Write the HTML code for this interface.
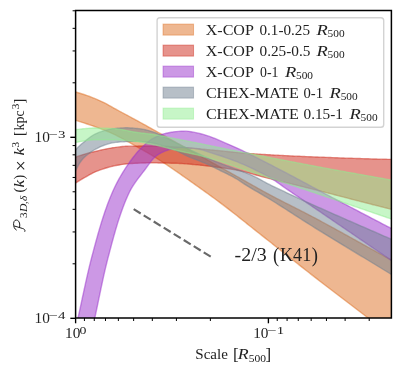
<!DOCTYPE html>
<html><head><meta charset="utf-8"><title>chart</title>
<style>
html,body{margin:0;padding:0;background:#fff;}
body{width:402px;height:374px;overflow:hidden;}
svg{display:block;will-change:transform;}
text{font-family:"Liberation Serif",serif;fill:#222;}
</style></head><body>
<svg width="402" height="374" viewBox="0 0 402 374">
<defs><clipPath id="ax"><rect x="75.60" y="10.50" width="315.80" height="307.50"/></clipPath></defs>
<rect x="0" y="0" width="402" height="374" fill="#fff"/>
<g clip-path="url(#ax)">
<path d="M70.00,90.30 L71.64,90.79 L73.28,91.28 L74.91,91.77 L76.55,92.27 L78.19,92.76 L79.83,93.24 L81.47,93.74 L83.11,94.24 L84.74,94.77 L86.38,95.33 L88.02,95.92 L89.66,96.52 L91.30,97.14 L92.93,97.79 L94.57,98.45 L96.21,99.13 L97.85,99.83 L99.49,100.55 L101.13,101.30 L102.76,102.06 L104.40,102.87 L106.04,103.72 L107.68,104.61 L109.32,105.52 L110.95,106.44 L112.59,107.38 L114.23,108.31 L115.87,109.23 L117.51,110.13 L119.15,111.01 L120.78,111.89 L122.42,112.76 L124.06,113.63 L125.70,114.50 L127.34,115.37 L128.97,116.25 L130.61,117.13 L132.25,118.02 L133.89,118.91 L135.53,119.81 L137.17,120.70 L138.80,121.60 L140.44,122.50 L142.08,123.41 L143.72,124.31 L145.36,125.22 L146.99,126.12 L148.63,127.03 L150.27,127.94 L151.91,128.85 L153.55,129.76 L155.19,130.67 L156.82,131.59 L158.46,132.50 L160.10,133.42 L161.74,134.34 L163.38,135.26 L165.02,136.18 L166.65,137.10 L168.29,138.02 L169.93,138.94 L171.57,139.87 L173.21,140.79 L174.84,141.71 L176.48,142.63 L178.12,143.55 L179.76,144.46 L181.40,145.38 L183.04,146.30 L184.67,147.22 L186.31,148.13 L187.95,149.05 L189.59,149.97 L191.23,150.88 L192.86,151.80 L194.50,152.71 L196.14,153.63 L197.78,154.55 L199.42,155.46 L201.06,156.38 L202.69,157.29 L204.33,158.21 L205.97,159.12 L207.61,160.04 L209.25,160.95 L210.88,161.87 L212.52,162.78 L214.16,163.70 L215.80,164.61 L217.44,165.53 L219.08,166.44 L220.71,167.36 L222.35,168.27 L223.99,169.19 L225.63,170.10 L227.27,171.02 L228.90,171.94 L230.54,172.85 L232.18,173.77 L233.82,174.68 L235.46,175.60 L237.10,176.51 L238.73,177.43 L240.37,178.35 L242.01,179.28 L243.65,180.20 L245.29,181.13 L246.92,182.06 L248.56,182.99 L250.20,183.91 L251.84,184.84 L253.48,185.76 L255.12,186.69 L256.75,187.61 L258.39,188.53 L260.03,189.44 L261.67,190.35 L263.31,191.26 L264.94,192.16 L266.58,193.05 L268.22,193.94 L269.86,194.82 L271.50,195.70 L273.14,196.57 L274.77,197.43 L276.41,198.29 L278.05,199.14 L279.69,199.98 L281.33,200.83 L282.96,201.66 L284.60,202.50 L286.24,203.33 L287.88,204.16 L289.52,204.99 L291.16,205.82 L292.79,206.65 L294.43,207.47 L296.07,208.30 L297.71,209.13 L299.35,209.96 L300.98,210.79 L302.62,211.63 L304.26,212.47 L305.90,213.31 L307.54,214.16 L309.18,215.02 L310.81,215.87 L312.45,216.74 L314.09,217.61 L315.73,218.48 L317.37,219.35 L319.01,220.23 L320.64,221.11 L322.28,221.99 L323.92,222.88 L325.56,223.76 L327.20,224.65 L328.83,225.54 L330.47,226.43 L332.11,227.33 L333.75,228.22 L335.39,229.12 L337.03,230.02 L338.66,230.92 L340.30,231.82 L341.94,232.73 L343.58,233.63 L345.22,234.53 L346.85,235.44 L348.49,236.35 L350.13,237.25 L351.77,238.16 L353.41,239.07 L355.05,239.98 L356.68,240.89 L358.32,241.80 L359.96,242.71 L361.60,243.61 L363.24,244.52 L364.87,245.43 L366.51,246.34 L368.15,247.25 L369.79,248.15 L371.43,249.06 L373.07,249.97 L374.70,250.87 L376.34,251.77 L377.98,252.68 L379.62,253.58 L381.26,254.48 L382.89,255.38 L384.53,256.27 L386.17,257.17 L387.81,258.06 L389.45,258.96 L391.09,259.85 L392.72,260.73 L394.36,261.62 L396.00,262.50 L396.00,339.50 L394.36,338.24 L392.72,336.97 L391.09,335.71 L389.45,334.45 L387.81,333.19 L386.17,331.92 L384.53,330.66 L382.89,329.40 L381.26,328.14 L379.62,326.88 L377.98,325.62 L376.34,324.35 L374.70,323.09 L373.07,321.83 L371.43,320.57 L369.79,319.31 L368.15,318.05 L366.51,316.80 L364.87,315.54 L363.24,314.28 L361.60,313.03 L359.96,311.78 L358.32,310.52 L356.68,309.27 L355.05,308.02 L353.41,306.77 L351.77,305.52 L350.13,304.27 L348.49,303.02 L346.85,301.77 L345.22,300.52 L343.58,299.27 L341.94,298.02 L340.30,296.76 L338.66,295.51 L337.03,294.26 L335.39,293.01 L333.75,291.76 L332.11,290.50 L330.47,289.25 L328.83,287.99 L327.20,286.73 L325.56,285.48 L323.92,284.22 L322.28,282.95 L320.64,281.69 L319.01,280.43 L317.37,279.16 L315.73,277.89 L314.09,276.62 L312.45,275.35 L310.81,274.08 L309.18,272.80 L307.54,271.52 L305.90,270.24 L304.26,268.96 L302.62,267.67 L300.98,266.39 L299.35,265.10 L297.71,263.81 L296.07,262.52 L294.43,261.23 L292.79,259.93 L291.16,258.64 L289.52,257.35 L287.88,256.05 L286.24,254.75 L284.60,253.46 L282.96,252.16 L281.33,250.86 L279.69,249.57 L278.05,248.27 L276.41,246.97 L274.77,245.68 L273.14,244.38 L271.50,243.08 L269.86,241.79 L268.22,240.49 L266.58,239.20 L264.94,237.91 L263.31,236.62 L261.67,235.33 L260.03,234.04 L258.39,232.74 L256.75,231.45 L255.12,230.15 L253.48,228.85 L251.84,227.54 L250.20,226.24 L248.56,224.93 L246.92,223.63 L245.29,222.32 L243.65,221.01 L242.01,219.71 L240.37,218.41 L238.73,217.11 L237.10,215.82 L235.46,214.52 L233.82,213.23 L232.18,211.95 L230.54,210.67 L228.90,209.40 L227.27,208.13 L225.63,206.87 L223.99,205.62 L222.35,204.37 L220.71,203.14 L219.08,201.91 L217.44,200.69 L215.80,199.47 L214.16,198.27 L212.52,197.07 L210.88,195.88 L209.25,194.69 L207.61,193.51 L205.97,192.33 L204.33,191.15 L202.69,189.98 L201.06,188.82 L199.42,187.65 L197.78,186.49 L196.14,185.33 L194.50,184.17 L192.86,183.01 L191.23,181.85 L189.59,180.69 L187.95,179.53 L186.31,178.37 L184.67,177.22 L183.04,176.06 L181.40,174.90 L179.76,173.75 L178.12,172.60 L176.48,171.46 L174.84,170.33 L173.21,169.20 L171.57,168.07 L169.93,166.96 L168.29,165.85 L166.65,164.75 L165.02,163.67 L163.38,162.59 L161.74,161.53 L160.10,160.47 L158.46,159.42 L156.82,158.38 L155.19,157.36 L153.55,156.34 L151.91,155.35 L150.27,154.36 L148.63,153.40 L146.99,152.45 L145.36,151.53 L143.72,150.61 L142.08,149.70 L140.44,148.78 L138.80,147.86 L137.17,146.92 L135.53,145.98 L133.89,145.03 L132.25,144.08 L130.61,143.13 L128.97,142.20 L127.34,141.28 L125.70,140.38 L124.06,139.50 L122.42,138.62 L120.78,137.75 L119.15,136.90 L117.51,136.06 L115.87,135.23 L114.23,134.44 L112.59,133.67 L110.95,132.93 L109.32,132.22 L107.68,131.52 L106.04,130.85 L104.40,130.19 L102.76,129.55 L101.13,128.92 L99.49,128.31 L97.85,127.71 L96.21,127.11 L94.57,126.53 L92.93,125.95 L91.30,125.39 L89.66,124.83 L88.02,124.28 L86.38,123.73 L84.74,123.19 L83.11,122.66 L81.47,122.13 L79.83,121.61 L78.19,121.09 L76.55,120.57 L74.91,120.06 L73.28,119.57 L71.64,119.08 L70.00,118.60 Z" fill="rgb(222,111,36)" fill-opacity="0.5" stroke="rgb(222,111,36)" stroke-opacity="0.5" stroke-width="1.39" stroke-linejoin="round"/>
<path d="M70.00,159.60 L71.64,158.84 L73.28,158.11 L74.91,157.42 L76.55,156.79 L78.19,156.19 L79.83,155.63 L81.47,155.09 L83.11,154.57 L84.74,154.09 L86.38,153.63 L88.02,153.20 L89.66,152.78 L91.30,152.38 L92.93,151.99 L94.57,151.60 L96.21,151.21 L97.85,150.81 L99.49,150.43 L101.13,150.05 L102.76,149.68 L104.40,149.32 L106.04,148.99 L107.68,148.67 L109.32,148.36 L110.95,148.07 L112.59,147.80 L114.23,147.57 L115.87,147.35 L117.51,147.13 L119.15,146.92 L120.78,146.73 L122.42,146.55 L124.06,146.40 L125.70,146.29 L127.34,146.22 L128.97,146.18 L130.61,146.16 L132.25,146.13 L133.89,146.11 L135.53,146.09 L137.17,146.07 L138.80,146.05 L140.44,146.04 L142.08,146.03 L143.72,146.02 L145.36,146.01 L146.99,146.00 L148.63,146.00 L150.27,146.00 L151.91,146.01 L153.55,146.03 L155.19,146.05 L156.82,146.09 L158.46,146.14 L160.10,146.19 L161.74,146.25 L163.38,146.32 L165.02,146.40 L166.65,146.47 L168.29,146.56 L169.93,146.64 L171.57,146.73 L173.21,146.82 L174.84,146.91 L176.48,147.00 L178.12,147.10 L179.76,147.19 L181.40,147.28 L183.04,147.38 L184.67,147.50 L186.31,147.62 L187.95,147.75 L189.59,147.88 L191.23,148.02 L192.86,148.17 L194.50,148.32 L196.14,148.47 L197.78,148.63 L199.42,148.79 L201.06,148.95 L202.69,149.11 L204.33,149.27 L205.97,149.42 L207.61,149.58 L209.25,149.73 L210.88,149.88 L212.52,150.03 L214.16,150.19 L215.80,150.35 L217.44,150.51 L219.08,150.68 L220.71,150.85 L222.35,151.01 L223.99,151.18 L225.63,151.35 L227.27,151.52 L228.90,151.69 L230.54,151.86 L232.18,152.03 L233.82,152.19 L235.46,152.35 L237.10,152.51 L238.73,152.66 L240.37,152.81 L242.01,152.95 L243.65,153.09 L245.29,153.22 L246.92,153.35 L248.56,153.47 L250.20,153.58 L251.84,153.69 L253.48,153.80 L255.12,153.91 L256.75,154.02 L258.39,154.12 L260.03,154.23 L261.67,154.33 L263.31,154.43 L264.94,154.53 L266.58,154.62 L268.22,154.72 L269.86,154.81 L271.50,154.91 L273.14,155.00 L274.77,155.09 L276.41,155.18 L278.05,155.26 L279.69,155.35 L281.33,155.43 L282.96,155.52 L284.60,155.60 L286.24,155.68 L287.88,155.76 L289.52,155.84 L291.16,155.92 L292.79,156.00 L294.43,156.08 L296.07,156.15 L297.71,156.23 L299.35,156.30 L300.98,156.37 L302.62,156.44 L304.26,156.51 L305.90,156.58 L307.54,156.65 L309.18,156.72 L310.81,156.79 L312.45,156.86 L314.09,156.92 L315.73,156.99 L317.37,157.05 L319.01,157.12 L320.64,157.18 L322.28,157.25 L323.92,157.31 L325.56,157.37 L327.20,157.43 L328.83,157.50 L330.47,157.56 L332.11,157.62 L333.75,157.68 L335.39,157.74 L337.03,157.80 L338.66,157.85 L340.30,157.91 L341.94,157.97 L343.58,158.03 L345.22,158.08 L346.85,158.14 L348.49,158.19 L350.13,158.25 L351.77,158.30 L353.41,158.35 L355.05,158.41 L356.68,158.46 L358.32,158.51 L359.96,158.56 L361.60,158.61 L363.24,158.66 L364.87,158.71 L366.51,158.76 L368.15,158.81 L369.79,158.85 L371.43,158.90 L373.07,158.94 L374.70,158.99 L376.34,159.03 L377.98,159.08 L379.62,159.12 L381.26,159.16 L382.89,159.20 L384.53,159.25 L386.17,159.29 L387.81,159.33 L389.45,159.36 L391.09,159.40 L392.72,159.44 L394.36,159.47 L396.00,159.50 L396.00,210.40 L394.36,210.01 L392.72,209.62 L391.09,209.22 L389.45,208.82 L387.81,208.41 L386.17,208.01 L384.53,207.60 L382.89,207.19 L381.26,206.78 L379.62,206.37 L377.98,205.95 L376.34,205.54 L374.70,205.12 L373.07,204.71 L371.43,204.29 L369.79,203.87 L368.15,203.45 L366.51,203.03 L364.87,202.61 L363.24,202.18 L361.60,201.76 L359.96,201.34 L358.32,200.91 L356.68,200.49 L355.05,200.07 L353.41,199.64 L351.77,199.21 L350.13,198.79 L348.49,198.36 L346.85,197.94 L345.22,197.51 L343.58,197.09 L341.94,196.66 L340.30,196.24 L338.66,195.81 L337.03,195.39 L335.39,194.96 L333.75,194.54 L332.11,194.12 L330.47,193.69 L328.83,193.27 L327.20,192.85 L325.56,192.43 L323.92,192.01 L322.28,191.59 L320.64,191.18 L319.01,190.76 L317.37,190.35 L315.73,189.93 L314.09,189.52 L312.45,189.11 L310.81,188.70 L309.18,188.29 L307.54,187.88 L305.90,187.47 L304.26,187.06 L302.62,186.65 L300.98,186.25 L299.35,185.85 L297.71,185.44 L296.07,185.04 L294.43,184.65 L292.79,184.25 L291.16,183.85 L289.52,183.46 L287.88,183.06 L286.24,182.67 L284.60,182.28 L282.96,181.88 L281.33,181.49 L279.69,181.09 L278.05,180.69 L276.41,180.29 L274.77,179.89 L273.14,179.49 L271.50,179.09 L269.86,178.68 L268.22,178.27 L266.58,177.86 L264.94,177.44 L263.31,177.02 L261.67,176.59 L260.03,176.15 L258.39,175.69 L256.75,175.24 L255.12,174.77 L253.48,174.31 L251.84,173.85 L250.20,173.39 L248.56,172.94 L246.92,172.50 L245.29,172.07 L243.65,171.66 L242.01,171.26 L240.37,170.88 L238.73,170.53 L237.10,170.20 L235.46,169.90 L233.82,169.62 L232.18,169.35 L230.54,169.08 L228.90,168.83 L227.27,168.58 L225.63,168.33 L223.99,168.09 L222.35,167.86 L220.71,167.63 L219.08,167.41 L217.44,167.19 L215.80,166.97 L214.16,166.76 L212.52,166.55 L210.88,166.34 L209.25,166.14 L207.61,165.95 L205.97,165.77 L204.33,165.59 L202.69,165.43 L201.06,165.27 L199.42,165.10 L197.78,164.93 L196.14,164.77 L194.50,164.61 L192.86,164.45 L191.23,164.29 L189.59,164.14 L187.95,164.00 L186.31,163.87 L184.67,163.74 L183.04,163.63 L181.40,163.53 L179.76,163.44 L178.12,163.37 L176.48,163.31 L174.84,163.27 L173.21,163.23 L171.57,163.19 L169.93,163.15 L168.29,163.12 L166.65,163.08 L165.02,163.05 L163.38,163.02 L161.74,163.00 L160.10,162.97 L158.46,162.95 L156.82,162.93 L155.19,162.92 L153.55,162.91 L151.91,162.90 L150.27,162.90 L148.63,162.90 L146.99,162.92 L145.36,162.95 L143.72,162.99 L142.08,163.03 L140.44,163.09 L138.80,163.15 L137.17,163.22 L135.53,163.30 L133.89,163.39 L132.25,163.47 L130.61,163.56 L128.97,163.67 L127.34,163.81 L125.70,163.98 L124.06,164.18 L122.42,164.42 L120.78,164.67 L119.15,164.95 L117.51,165.24 L115.87,165.54 L114.23,165.86 L112.59,166.20 L110.95,166.60 L109.32,167.05 L107.68,167.53 L106.04,168.02 L104.40,168.52 L102.76,169.05 L101.13,169.60 L99.49,170.19 L97.85,170.80 L96.21,171.46 L94.57,172.16 L92.93,172.94 L91.30,173.78 L89.66,174.67 L88.02,175.60 L86.38,176.54 L84.74,177.48 L83.11,178.41 L81.47,179.37 L79.83,180.35 L78.19,181.37 L76.55,182.43 L74.91,183.55 L73.28,184.74 L71.64,186.00 L70.00,187.30 Z" fill="rgb(205,40,25)" fill-opacity="0.5" stroke="rgb(205,40,25)" stroke-opacity="0.5" stroke-width="1.39" stroke-linejoin="round"/>
<path d="M72.00,345.00 L72.54,342.58 L73.07,340.16 L73.61,337.73 L74.14,335.31 L74.68,332.89 L75.22,330.47 L75.76,328.05 L76.30,325.62 L76.84,323.20 L77.38,320.78 L77.92,318.36 L78.46,315.94 L79.00,313.52 L79.53,311.09 L80.05,308.67 L80.58,306.24 L81.10,303.81 L81.62,301.38 L82.14,298.95 L82.66,296.52 L83.18,294.10 L83.71,291.67 L84.23,289.24 L84.76,286.81 L85.29,284.39 L85.82,281.96 L86.36,279.54 L86.91,277.12 L87.46,274.70 L88.01,272.28 L88.58,269.87 L89.16,267.46 L89.74,265.05 L90.33,262.65 L90.94,260.24 L91.55,257.85 L92.18,255.45 L92.82,253.06 L93.46,250.66 L94.10,248.26 L94.75,245.86 L95.40,243.45 L96.06,241.04 L96.72,238.63 L97.40,236.22 L98.08,233.81 L98.77,231.40 L99.47,229.00 L100.18,226.60 L100.90,224.20 L101.63,221.81 L102.38,219.43 L103.14,217.06 L103.92,214.69 L104.71,212.33 L105.51,209.98 L106.34,207.65 L107.18,205.32 L108.04,203.01 L108.92,200.71 L109.81,198.43 L110.73,196.17 L111.68,193.92 L112.64,191.68 L113.64,189.46 L114.69,187.24 L115.78,185.02 L116.91,182.81 L118.08,180.61 L119.29,178.42 L120.54,176.24 L121.82,174.07 L123.13,171.93 L124.47,169.80 L125.84,167.69 L127.23,165.61 L128.65,163.55 L130.09,161.52 L131.55,159.51 L133.03,157.54 L134.53,155.60 L136.06,153.69 L137.66,151.81 L139.34,149.97 L141.08,148.17 L142.87,146.43 L144.70,144.73 L146.55,143.10 L148.46,141.49 L150.46,139.99 L152.54,138.69 L154.71,137.51 L156.96,136.40 L159.26,135.40 L161.60,134.54 L163.95,133.85 L166.34,133.25 L168.77,132.70 L171.23,132.23 L173.70,131.85 L176.16,131.59 L178.63,131.38 L181.11,131.20 L183.59,131.11 L186.06,131.14 L188.53,131.36 L191.00,131.72 L193.45,132.17 L195.89,132.67 L198.32,133.16 L200.73,133.72 L203.12,134.38 L205.50,135.12 L207.87,135.90 L210.21,136.70 L212.53,137.55 L214.84,138.46 L217.13,139.42 L219.41,140.41 L221.68,141.42 L223.95,142.42 L226.23,143.40 L228.52,144.36 L230.81,145.33 L233.09,146.31 L235.36,147.31 L237.61,148.34 L239.86,149.38 L242.10,150.44 L244.33,151.51 L246.57,152.60 L248.79,153.69 L251.02,154.79 L253.23,155.91 L255.45,157.02 L257.66,158.15 L259.87,159.28 L262.08,160.41 L264.29,161.55 L266.49,162.69 L268.70,163.83 L270.90,164.97 L273.11,166.11 L275.31,167.25 L277.52,168.38 L279.72,169.52 L281.92,170.67 L284.12,171.82 L286.31,172.97 L288.51,174.13 L290.70,175.29 L292.89,176.45 L295.08,177.62 L297.27,178.79 L299.46,179.96 L301.64,181.13 L303.83,182.30 L306.02,183.48 L308.20,184.65 L310.39,185.83 L312.57,187.00 L314.76,188.17 L316.94,189.35 L319.13,190.52 L321.32,191.69 L323.51,192.86 L325.70,194.02 L327.89,195.18 L330.08,196.34 L332.28,197.50 L334.47,198.66 L336.67,199.82 L338.86,200.97 L341.06,202.13 L343.25,203.29 L345.45,204.44 L347.64,205.60 L349.84,206.75 L352.03,207.90 L354.23,209.06 L356.43,210.21 L358.62,211.36 L360.82,212.52 L363.02,213.67 L365.21,214.82 L367.41,215.97 L369.61,217.12 L371.81,218.27 L374.01,219.42 L376.20,220.57 L378.40,221.72 L380.60,222.87 L382.80,224.02 L385.00,225.17 L387.20,226.32 L389.40,227.46 L391.60,228.61 L393.80,229.76 L396.00,230.90 L396.00,263.60 L394.02,262.25 L392.04,260.90 L390.05,259.56 L388.07,258.21 L386.09,256.86 L384.11,255.51 L382.13,254.16 L380.15,252.81 L378.17,251.46 L376.19,250.11 L374.20,248.76 L372.22,247.41 L370.24,246.06 L368.26,244.71 L366.28,243.36 L364.30,242.01 L362.32,240.66 L360.34,239.31 L358.36,237.96 L356.38,236.60 L354.40,235.25 L352.42,233.90 L350.44,232.55 L348.46,231.20 L346.48,229.85 L344.50,228.50 L342.52,227.15 L340.54,225.80 L338.56,224.45 L336.58,223.09 L334.60,221.74 L332.62,220.39 L330.64,219.04 L328.66,217.69 L326.68,216.34 L324.70,214.99 L322.72,213.64 L320.74,212.28 L318.76,210.93 L316.78,209.58 L314.80,208.23 L312.82,206.88 L310.84,205.53 L308.86,204.18 L306.88,202.83 L304.90,201.48 L302.91,200.13 L300.93,198.78 L298.95,197.43 L296.97,196.08 L294.99,194.73 L293.01,193.38 L291.03,192.03 L289.05,190.68 L287.07,189.33 L285.09,187.97 L283.13,186.59 L281.17,185.19 L279.22,183.78 L277.27,182.39 L275.30,181.02 L273.32,179.68 L271.30,178.39 L269.26,177.16 L267.18,175.99 L265.07,174.85 L262.94,173.74 L260.79,172.66 L258.64,171.59 L256.49,170.54 L254.33,169.49 L252.17,168.46 L250.00,167.44 L247.82,166.43 L245.63,165.45 L243.44,164.48 L241.24,163.53 L239.03,162.60 L236.80,161.71 L234.56,160.86 L232.32,160.02 L230.07,159.19 L227.81,158.37 L225.55,157.57 L223.29,156.78 L221.01,156.01 L218.74,155.27 L216.45,154.54 L214.17,153.82 L211.88,153.06 L209.59,152.29 L207.29,151.52 L204.98,150.79 L202.67,150.12 L200.35,149.53 L198.02,149.04 L195.68,148.68 L193.32,148.43 L190.93,148.19 L188.53,147.99 L186.12,147.81 L183.72,147.68 L181.33,147.61 L178.95,147.63 L176.57,147.89 L174.19,148.35 L171.83,148.95 L169.52,149.61 L167.26,150.29 L164.98,151.11 L162.72,152.09 L160.52,153.20 L158.45,154.42 L156.55,155.71 L154.81,157.16 L153.16,158.82 L151.59,160.64 L150.09,162.57 L148.63,164.56 L147.19,166.58 L145.76,168.57 L144.32,170.50 L142.85,172.40 L141.36,174.32 L139.87,176.24 L138.39,178.17 L136.94,180.12 L135.52,182.08 L134.14,184.06 L132.83,186.07 L131.59,188.09 L130.44,190.14 L129.39,192.22 L128.40,194.33 L127.44,196.46 L126.50,198.61 L125.58,200.78 L124.69,202.98 L123.82,205.18 L122.97,207.41 L122.14,209.65 L121.34,211.91 L120.55,214.18 L119.78,216.46 L119.02,218.76 L118.29,221.06 L117.56,223.37 L116.85,225.69 L116.16,228.02 L115.47,230.35 L114.80,232.69 L114.14,235.03 L113.49,237.37 L112.84,239.71 L112.21,242.05 L111.58,244.39 L110.95,246.73 L110.33,249.06 L109.72,251.39 L109.11,253.71 L108.49,256.02 L107.89,258.33 L107.30,260.65 L106.72,262.97 L106.15,265.29 L105.60,267.62 L105.05,269.95 L104.51,272.28 L103.98,274.62 L103.46,276.96 L102.94,279.30 L102.44,281.64 L101.93,283.99 L101.43,286.34 L100.94,288.68 L100.45,291.03 L99.96,293.38 L99.47,295.74 L98.98,298.09 L98.50,300.44 L98.01,302.79 L97.52,305.14 L97.03,307.49 L96.54,309.84 L96.05,312.19 L95.55,314.53 L95.04,316.88 L94.54,319.22 L94.03,321.56 L93.52,323.90 L93.01,326.25 L92.51,328.59 L92.01,330.93 L91.50,333.28 L91.00,335.62 L90.50,337.97 L90.00,340.31 L89.50,342.66 L89.00,345.00 Z" fill="rgb(153,50,204)" fill-opacity="0.5" stroke="rgb(153,50,204)" stroke-opacity="0.5" stroke-width="1.39" stroke-linejoin="round"/>
<path d="M70.00,158.00 L71.64,155.37 L73.28,152.92 L74.91,150.71 L76.55,148.78 L78.19,147.07 L79.83,145.51 L81.47,144.06 L83.11,142.69 L84.74,141.37 L86.38,140.05 L88.02,138.75 L89.66,137.49 L91.30,136.31 L92.93,135.24 L94.57,134.31 L96.21,133.53 L97.85,132.84 L99.49,132.21 L101.13,131.64 L102.76,131.12 L104.40,130.65 L106.04,130.22 L107.68,129.81 L109.32,129.42 L110.95,129.07 L112.59,128.78 L114.23,128.58 L115.87,128.41 L117.51,128.25 L119.15,128.11 L120.78,127.99 L122.42,127.89 L124.06,127.83 L125.70,127.80 L127.34,127.81 L128.97,127.86 L130.61,127.94 L132.25,128.05 L133.89,128.18 L135.53,128.33 L137.17,128.50 L138.80,128.67 L140.44,128.85 L142.08,129.09 L143.72,129.40 L145.36,129.76 L146.99,130.17 L148.63,130.61 L150.27,131.08 L151.91,131.57 L153.55,132.10 L155.19,132.70 L156.82,133.37 L158.46,134.08 L160.10,134.84 L161.74,135.64 L163.38,136.46 L165.02,137.29 L166.65,138.13 L168.29,138.96 L169.93,139.78 L171.57,140.58 L173.21,141.38 L174.84,142.19 L176.48,143.02 L178.12,143.85 L179.76,144.68 L181.40,145.52 L183.04,146.34 L184.67,147.15 L186.31,147.95 L187.95,148.73 L189.59,149.50 L191.23,150.26 L192.86,151.02 L194.50,151.77 L196.14,152.54 L197.78,153.31 L199.42,154.09 L201.06,154.88 L202.69,155.66 L204.33,156.43 L205.97,157.19 L207.61,157.93 L209.25,158.67 L210.88,159.41 L212.52,160.13 L214.16,160.83 L215.80,161.52 L217.44,162.18 L219.08,162.83 L220.71,163.46 L222.35,164.08 L223.99,164.69 L225.63,165.30 L227.27,165.90 L228.90,166.49 L230.54,167.08 L232.18,167.68 L233.82,168.28 L235.46,168.88 L237.10,169.49 L238.73,170.11 L240.37,170.74 L242.01,171.37 L243.65,172.00 L245.29,172.63 L246.92,173.27 L248.56,173.93 L250.20,174.61 L251.84,175.33 L253.48,176.08 L255.12,176.88 L256.75,177.72 L258.39,178.58 L260.03,179.46 L261.67,180.36 L263.31,181.26 L264.94,182.15 L266.58,183.03 L268.22,183.90 L269.86,184.73 L271.50,185.54 L273.14,186.34 L274.77,187.12 L276.41,187.90 L278.05,188.67 L279.69,189.44 L281.33,190.21 L282.96,190.97 L284.60,191.74 L286.24,192.51 L287.88,193.29 L289.52,194.06 L291.16,194.83 L292.79,195.60 L294.43,196.37 L296.07,197.13 L297.71,197.89 L299.35,198.64 L300.98,199.39 L302.62,200.14 L304.26,200.88 L305.90,201.63 L307.54,202.37 L309.18,203.11 L310.81,203.84 L312.45,204.58 L314.09,205.31 L315.73,206.05 L317.37,206.78 L319.01,207.51 L320.64,208.24 L322.28,208.97 L323.92,209.70 L325.56,210.43 L327.20,211.15 L328.83,211.88 L330.47,212.61 L332.11,213.34 L333.75,214.06 L335.39,214.79 L337.03,215.51 L338.66,216.23 L340.30,216.95 L341.94,217.67 L343.58,218.39 L345.22,219.11 L346.85,219.83 L348.49,220.55 L350.13,221.26 L351.77,221.98 L353.41,222.69 L355.05,223.41 L356.68,224.12 L358.32,224.84 L359.96,225.55 L361.60,226.27 L363.24,226.98 L364.87,227.69 L366.51,228.41 L368.15,229.12 L369.79,229.83 L371.43,230.55 L373.07,231.26 L374.70,231.97 L376.34,232.69 L377.98,233.40 L379.62,234.12 L381.26,234.83 L382.89,235.55 L384.53,236.27 L386.17,236.98 L387.81,237.70 L389.45,238.42 L391.09,239.14 L392.72,239.86 L394.36,240.58 L396.00,241.30 L396.00,277.30 L394.36,276.28 L392.72,275.27 L391.09,274.25 L389.45,273.24 L387.81,272.24 L386.17,271.23 L384.53,270.23 L382.89,269.22 L381.26,268.22 L379.62,267.22 L377.98,266.22 L376.34,265.23 L374.70,264.23 L373.07,263.23 L371.43,262.24 L369.79,261.24 L368.15,260.25 L366.51,259.26 L364.87,258.27 L363.24,257.27 L361.60,256.28 L359.96,255.29 L358.32,254.30 L356.68,253.31 L355.05,252.32 L353.41,251.33 L351.77,250.34 L350.13,249.35 L348.49,248.35 L346.85,247.36 L345.22,246.37 L343.58,245.38 L341.94,244.38 L340.30,243.39 L338.66,242.39 L337.03,241.40 L335.39,240.40 L333.75,239.40 L332.11,238.40 L330.47,237.40 L328.83,236.40 L327.20,235.39 L325.56,234.39 L323.92,233.38 L322.28,232.37 L320.64,231.36 L319.01,230.35 L317.37,229.34 L315.73,228.32 L314.09,227.30 L312.45,226.28 L310.81,225.26 L309.18,224.23 L307.54,223.19 L305.90,222.16 L304.26,221.11 L302.62,220.07 L300.98,219.02 L299.35,217.96 L297.71,216.91 L296.07,215.85 L294.43,214.80 L292.79,213.74 L291.16,212.68 L289.52,211.63 L287.88,210.57 L286.24,209.52 L284.60,208.47 L282.96,207.42 L281.33,206.38 L279.69,205.34 L278.05,204.30 L276.41,203.27 L274.77,202.25 L273.14,201.23 L271.50,200.22 L269.86,199.21 L268.22,198.22 L266.58,197.24 L264.94,196.28 L263.31,195.32 L261.67,194.36 L260.03,193.41 L258.39,192.46 L256.75,191.52 L255.12,190.56 L253.48,189.61 L251.84,188.64 L250.20,187.66 L248.56,186.68 L246.92,185.67 L245.29,184.65 L243.65,183.58 L242.01,182.48 L240.37,181.37 L238.73,180.29 L237.10,179.25 L235.46,178.29 L233.82,177.37 L232.18,176.48 L230.54,175.62 L228.90,174.79 L227.27,173.97 L225.63,173.16 L223.99,172.36 L222.35,171.56 L220.71,170.76 L219.08,169.96 L217.44,169.14 L215.80,168.30 L214.16,167.42 L212.52,166.56 L210.88,165.76 L209.25,165.01 L207.61,164.30 L205.97,163.61 L204.33,162.94 L202.69,162.28 L201.06,161.63 L199.42,160.97 L197.78,160.33 L196.14,159.70 L194.50,159.08 L192.86,158.45 L191.23,157.81 L189.59,157.12 L187.95,156.39 L186.31,155.62 L184.67,154.81 L183.04,153.98 L181.40,153.14 L179.76,152.31 L178.12,151.50 L176.48,150.71 L174.84,149.97 L173.21,149.28 L171.57,148.66 L169.93,148.08 L168.29,147.51 L166.65,146.94 L165.02,146.38 L163.38,145.84 L161.74,145.32 L160.10,144.82 L158.46,144.36 L156.82,143.93 L155.19,143.53 L153.55,143.18 L151.91,142.88 L150.27,142.64 L148.63,142.42 L146.99,142.22 L145.36,142.02 L143.72,141.83 L142.08,141.67 L140.44,141.53 L138.80,141.42 L137.17,141.34 L135.53,141.30 L133.89,141.31 L132.25,141.34 L130.61,141.39 L128.97,141.46 L127.34,141.54 L125.70,141.63 L124.06,141.72 L122.42,141.82 L120.78,141.92 L119.15,142.05 L117.51,142.19 L115.87,142.37 L114.23,142.57 L112.59,142.83 L110.95,143.18 L109.32,143.60 L107.68,144.08 L106.04,144.59 L104.40,145.14 L102.76,145.77 L101.13,146.47 L99.49,147.22 L97.85,148.02 L96.21,148.87 L94.57,149.76 L92.93,150.78 L91.30,151.88 L89.66,153.04 L88.02,154.24 L86.38,155.52 L84.74,156.96 L83.11,158.61 L81.47,160.52 L79.83,162.75 L78.19,165.58 L76.55,168.86 L74.91,172.29 L73.28,175.95 L71.64,179.85 L70.00,184.00 Z" fill="rgb(112,128,144)" fill-opacity="0.5" stroke="rgb(112,128,144)" stroke-opacity="0.5" stroke-width="1.39" stroke-linejoin="round"/>
<path d="M70.00,130.40 L71.64,130.16 L73.28,129.93 L74.91,129.72 L76.55,129.54 L78.19,129.36 L79.83,129.18 L81.47,128.99 L83.11,128.81 L84.74,128.64 L86.38,128.48 L88.02,128.33 L89.66,128.21 L91.30,128.11 L92.93,128.04 L94.57,128.00 L96.21,128.00 L97.85,128.01 L99.49,128.04 L101.13,128.07 L102.76,128.11 L104.40,128.17 L106.04,128.23 L107.68,128.29 L109.32,128.37 L110.95,128.44 L112.59,128.53 L114.23,128.61 L115.87,128.74 L117.51,128.92 L119.15,129.14 L120.78,129.40 L122.42,129.70 L124.06,130.02 L125.70,130.35 L127.34,130.69 L128.97,131.03 L130.61,131.36 L132.25,131.68 L133.89,131.97 L135.53,132.23 L137.17,132.46 L138.80,132.67 L140.44,132.87 L142.08,133.07 L143.72,133.26 L145.36,133.45 L146.99,133.64 L148.63,133.84 L150.27,134.06 L151.91,134.29 L153.55,134.54 L155.19,134.80 L156.82,135.08 L158.46,135.37 L160.10,135.67 L161.74,135.98 L163.38,136.29 L165.02,136.61 L166.65,136.94 L168.29,137.27 L169.93,137.60 L171.57,137.93 L173.21,138.25 L174.84,138.58 L176.48,138.89 L178.12,139.21 L179.76,139.53 L181.40,139.85 L183.04,140.17 L184.67,140.50 L186.31,140.82 L187.95,141.15 L189.59,141.48 L191.23,141.81 L192.86,142.14 L194.50,142.47 L196.14,142.80 L197.78,143.14 L199.42,143.47 L201.06,143.80 L202.69,144.14 L204.33,144.47 L205.97,144.81 L207.61,145.14 L209.25,145.48 L210.88,145.81 L212.52,146.15 L214.16,146.49 L215.80,146.82 L217.44,147.16 L219.08,147.49 L220.71,147.83 L222.35,148.16 L223.99,148.49 L225.63,148.83 L227.27,149.16 L228.90,149.49 L230.54,149.82 L232.18,150.15 L233.82,150.48 L235.46,150.80 L237.10,151.13 L238.73,151.45 L240.37,151.77 L242.01,152.09 L243.65,152.41 L245.29,152.73 L246.92,153.05 L248.56,153.36 L250.20,153.68 L251.84,153.99 L253.48,154.31 L255.12,154.62 L256.75,154.94 L258.39,155.26 L260.03,155.58 L261.67,155.89 L263.31,156.21 L264.94,156.53 L266.58,156.85 L268.22,157.17 L269.86,157.49 L271.50,157.81 L273.14,158.13 L274.77,158.45 L276.41,158.77 L278.05,159.09 L279.69,159.41 L281.33,159.73 L282.96,160.05 L284.60,160.37 L286.24,160.69 L287.88,161.01 L289.52,161.33 L291.16,161.65 L292.79,161.96 L294.43,162.28 L296.07,162.60 L297.71,162.92 L299.35,163.23 L300.98,163.55 L302.62,163.86 L304.26,164.18 L305.90,164.49 L307.54,164.80 L309.18,165.11 L310.81,165.42 L312.45,165.73 L314.09,166.04 L315.73,166.35 L317.37,166.66 L319.01,166.96 L320.64,167.27 L322.28,167.57 L323.92,167.88 L325.56,168.18 L327.20,168.48 L328.83,168.78 L330.47,169.08 L332.11,169.38 L333.75,169.68 L335.39,169.98 L337.03,170.28 L338.66,170.58 L340.30,170.88 L341.94,171.18 L343.58,171.47 L345.22,171.77 L346.85,172.07 L348.49,172.36 L350.13,172.66 L351.77,172.95 L353.41,173.25 L355.05,173.54 L356.68,173.84 L358.32,174.13 L359.96,174.43 L361.60,174.72 L363.24,175.01 L364.87,175.31 L366.51,175.60 L368.15,175.90 L369.79,176.19 L371.43,176.48 L373.07,176.78 L374.70,177.07 L376.34,177.36 L377.98,177.66 L379.62,177.95 L381.26,178.25 L382.89,178.54 L384.53,178.84 L386.17,179.13 L387.81,179.42 L389.45,179.72 L391.09,180.02 L392.72,180.31 L394.36,180.61 L396.00,180.90 L396.00,220.60 L394.36,220.04 L392.72,219.49 L391.09,218.93 L389.45,218.37 L387.81,217.81 L386.17,217.25 L384.53,216.69 L382.89,216.13 L381.26,215.57 L379.62,215.00 L377.98,214.44 L376.34,213.88 L374.70,213.32 L373.07,212.75 L371.43,212.19 L369.79,211.63 L368.15,211.06 L366.51,210.50 L364.87,209.93 L363.24,209.37 L361.60,208.80 L359.96,208.24 L358.32,207.68 L356.68,207.11 L355.05,206.55 L353.41,205.99 L351.77,205.42 L350.13,204.86 L348.49,204.30 L346.85,203.74 L345.22,203.18 L343.58,202.62 L341.94,202.06 L340.30,201.50 L338.66,200.94 L337.03,200.38 L335.39,199.83 L333.75,199.27 L332.11,198.71 L330.47,198.16 L328.83,197.61 L327.20,197.05 L325.56,196.50 L323.92,195.95 L322.28,195.40 L320.64,194.85 L319.01,194.30 L317.37,193.75 L315.73,193.20 L314.09,192.65 L312.45,192.10 L310.81,191.55 L309.18,191.00 L307.54,190.45 L305.90,189.91 L304.26,189.36 L302.62,188.81 L300.98,188.27 L299.35,187.72 L297.71,187.17 L296.07,186.63 L294.43,186.09 L292.79,185.54 L291.16,185.00 L289.52,184.45 L287.88,183.91 L286.24,183.37 L284.60,182.82 L282.96,182.28 L281.33,181.74 L279.69,181.20 L278.05,180.66 L276.41,180.12 L274.77,179.57 L273.14,179.03 L271.50,178.49 L269.86,177.95 L268.22,177.41 L266.58,176.88 L264.94,176.34 L263.31,175.81 L261.67,175.27 L260.03,174.74 L258.39,174.20 L256.75,173.67 L255.12,173.14 L253.48,172.61 L251.84,172.07 L250.20,171.54 L248.56,171.01 L246.92,170.47 L245.29,169.94 L243.65,169.40 L242.01,168.86 L240.37,168.32 L238.73,167.78 L237.10,167.23 L235.46,166.68 L233.82,166.12 L232.18,165.56 L230.54,165.00 L228.90,164.44 L227.27,163.88 L225.63,163.33 L223.99,162.78 L222.35,162.23 L220.71,161.69 L219.08,161.17 L217.44,160.65 L215.80,160.14 L214.16,159.64 L212.52,159.14 L210.88,158.64 L209.25,158.15 L207.61,157.67 L205.97,157.20 L204.33,156.74 L202.69,156.30 L201.06,155.87 L199.42,155.46 L197.78,155.06 L196.14,154.68 L194.50,154.31 L192.86,153.96 L191.23,153.61 L189.59,153.26 L187.95,152.92 L186.31,152.58 L184.67,152.23 L183.04,151.88 L181.40,151.52 L179.76,151.14 L178.12,150.76 L176.48,150.36 L174.84,149.96 L173.21,149.54 L171.57,149.13 L169.93,148.71 L168.29,148.28 L166.65,147.86 L165.02,147.44 L163.38,147.02 L161.74,146.61 L160.10,146.21 L158.46,145.82 L156.82,145.44 L155.19,145.07 L153.55,144.72 L151.91,144.38 L150.27,144.05 L148.63,143.72 L146.99,143.40 L145.36,143.08 L143.72,142.76 L142.08,142.46 L140.44,142.18 L138.80,141.91 L137.17,141.66 L135.53,141.44 L133.89,141.25 L132.25,141.08 L130.61,140.91 L128.97,140.75 L127.34,140.58 L125.70,140.43 L124.06,140.28 L122.42,140.15 L120.78,140.04 L119.15,139.94 L117.51,139.87 L115.87,139.82 L114.23,139.80 L112.59,139.80 L110.95,139.80 L109.32,139.80 L107.68,139.80 L106.04,139.80 L104.40,139.80 L102.76,139.80 L101.13,139.80 L99.49,139.80 L97.85,139.80 L96.21,139.80 L94.57,139.81 L92.93,139.87 L91.30,139.98 L89.66,140.14 L88.02,140.34 L86.38,140.57 L84.74,140.82 L83.11,141.09 L81.47,141.38 L79.83,141.66 L78.19,141.94 L76.55,142.21 L74.91,142.48 L73.28,142.77 L71.64,143.08 L70.00,143.40 Z" fill="rgb(144,238,144)" fill-opacity="0.5" stroke="rgb(144,238,144)" stroke-opacity="0.5" stroke-width="1.39" stroke-linejoin="round"/>
<line x1="133.7" y1="209.2" x2="210.8" y2="256.7" stroke="#696969" stroke-width="2.15" stroke-dasharray="8.2 3.55"/>
</g>
<line x1="75.60" y1="318.00" x2="75.60" y2="323.30" stroke="#000" stroke-width="1.35"/>
<line x1="268.40" y1="318.00" x2="268.40" y2="323.30" stroke="#000" stroke-width="1.35"/>
<line x1="84.42" y1="318.00" x2="84.42" y2="321.00" stroke="#000" stroke-width="1.0"/>
<line x1="94.28" y1="318.00" x2="94.28" y2="321.00" stroke="#000" stroke-width="1.0"/>
<line x1="105.47" y1="318.00" x2="105.47" y2="321.00" stroke="#000" stroke-width="1.0"/>
<line x1="118.37" y1="318.00" x2="118.37" y2="321.00" stroke="#000" stroke-width="1.0"/>
<line x1="133.64" y1="318.00" x2="133.64" y2="321.00" stroke="#000" stroke-width="1.0"/>
<line x1="152.32" y1="318.00" x2="152.32" y2="321.00" stroke="#000" stroke-width="1.0"/>
<line x1="176.41" y1="318.00" x2="176.41" y2="321.00" stroke="#000" stroke-width="1.0"/>
<line x1="210.36" y1="318.00" x2="210.36" y2="321.00" stroke="#000" stroke-width="1.0"/>
<line x1="277.22" y1="318.00" x2="277.22" y2="321.00" stroke="#000" stroke-width="1.0"/>
<line x1="287.08" y1="318.00" x2="287.08" y2="321.00" stroke="#000" stroke-width="1.0"/>
<line x1="298.27" y1="318.00" x2="298.27" y2="321.00" stroke="#000" stroke-width="1.0"/>
<line x1="311.17" y1="318.00" x2="311.17" y2="321.00" stroke="#000" stroke-width="1.0"/>
<line x1="326.44" y1="318.00" x2="326.44" y2="321.00" stroke="#000" stroke-width="1.0"/>
<line x1="345.12" y1="318.00" x2="345.12" y2="321.00" stroke="#000" stroke-width="1.0"/>
<line x1="369.21" y1="318.00" x2="369.21" y2="321.00" stroke="#000" stroke-width="1.0"/>
<line x1="70.30" y1="318.30" x2="75.60" y2="318.30" stroke="#000" stroke-width="1.35"/>
<line x1="70.30" y1="137.30" x2="75.60" y2="137.30" stroke="#000" stroke-width="1.35"/>
<line x1="72.60" y1="263.81" x2="75.60" y2="263.81" stroke="#000" stroke-width="1.0"/>
<line x1="72.60" y1="231.94" x2="75.60" y2="231.94" stroke="#000" stroke-width="1.0"/>
<line x1="72.60" y1="209.33" x2="75.60" y2="209.33" stroke="#000" stroke-width="1.0"/>
<line x1="72.60" y1="191.79" x2="75.60" y2="191.79" stroke="#000" stroke-width="1.0"/>
<line x1="72.60" y1="177.45" x2="75.60" y2="177.45" stroke="#000" stroke-width="1.0"/>
<line x1="72.60" y1="165.34" x2="75.60" y2="165.34" stroke="#000" stroke-width="1.0"/>
<line x1="72.60" y1="154.84" x2="75.60" y2="154.84" stroke="#000" stroke-width="1.0"/>
<line x1="72.60" y1="145.58" x2="75.60" y2="145.58" stroke="#000" stroke-width="1.0"/>
<line x1="72.60" y1="82.81" x2="75.60" y2="82.81" stroke="#000" stroke-width="1.0"/>
<line x1="72.60" y1="50.94" x2="75.60" y2="50.94" stroke="#000" stroke-width="1.0"/>
<line x1="72.60" y1="28.33" x2="75.60" y2="28.33" stroke="#000" stroke-width="1.0"/>
<line x1="72.60" y1="10.79" x2="75.60" y2="10.79" stroke="#000" stroke-width="1.0"/>
<rect x="75.60" y="10.50" width="315.80" height="307.50" fill="none" stroke="#000" stroke-width="1.5"/>
<rect x="157.1" y="17.7" width="226.6" height="109.6" rx="2.8" ry="2.8" fill="#fff" fill-opacity="0.8" stroke="#d3d3d3" stroke-width="1.4"/>
<rect x="163.05" y="24.10" width="30.5" height="11.0" fill="rgb(222,111,36)" fill-opacity="0.5" stroke="rgb(222,111,36)" stroke-opacity="0.45" stroke-width="1.0"/>
<text x="205.70" y="34.90" font-size="14.30" textLength="48.20" lengthAdjust="spacingAndGlyphs">X-COP</text>
<text x="259.50" y="34.90" font-size="14.30" textLength="50.50" lengthAdjust="spacingAndGlyphs">0.1-0.25</text>
<text x="316.50" y="34.90" font-size="14.60" font-style="italic" textLength="11.30" lengthAdjust="spacingAndGlyphs">R</text>
<text x="327.60" y="37.00" font-size="10.00" textLength="17.00" lengthAdjust="spacingAndGlyphs">500</text>
<rect x="163.05" y="45.10" width="30.5" height="11.0" fill="rgb(205,40,25)" fill-opacity="0.5" stroke="rgb(205,40,25)" stroke-opacity="0.45" stroke-width="1.0"/>
<text x="205.70" y="55.90" font-size="14.30" textLength="48.20" lengthAdjust="spacingAndGlyphs">X-COP</text>
<text x="259.50" y="55.90" font-size="14.30" textLength="50.90" lengthAdjust="spacingAndGlyphs">0.25-0.5</text>
<text x="316.50" y="55.90" font-size="14.60" font-style="italic" textLength="11.30" lengthAdjust="spacingAndGlyphs">R</text>
<text x="327.60" y="58.00" font-size="10.00" textLength="17.00" lengthAdjust="spacingAndGlyphs">500</text>
<rect x="163.05" y="66.10" width="30.5" height="11.0" fill="rgb(153,50,204)" fill-opacity="0.5" stroke="rgb(153,50,204)" stroke-opacity="0.45" stroke-width="1.0"/>
<text x="205.70" y="76.90" font-size="14.30" textLength="48.20" lengthAdjust="spacingAndGlyphs">X-COP</text>
<text x="260.00" y="76.90" font-size="14.30" textLength="18.40" lengthAdjust="spacingAndGlyphs">0-1</text>
<text x="284.90" y="76.90" font-size="14.60" font-style="italic" textLength="11.30" lengthAdjust="spacingAndGlyphs">R</text>
<text x="296.00" y="79.00" font-size="10.00" textLength="17.00" lengthAdjust="spacingAndGlyphs">500</text>
<rect x="163.05" y="87.10" width="30.5" height="11.0" fill="rgb(112,128,144)" fill-opacity="0.5" stroke="rgb(112,128,144)" stroke-opacity="0.45" stroke-width="1.0"/>
<text x="205.90" y="97.90" font-size="14.30" textLength="93.00" lengthAdjust="spacingAndGlyphs">CHEX-MATE</text>
<text x="303.50" y="97.90" font-size="14.30" textLength="19.50" lengthAdjust="spacingAndGlyphs">0-1</text>
<text x="329.60" y="97.90" font-size="14.60" font-style="italic" textLength="11.30" lengthAdjust="spacingAndGlyphs">R</text>
<text x="340.70" y="100.00" font-size="10.00" textLength="17.00" lengthAdjust="spacingAndGlyphs">500</text>
<rect x="163.05" y="108.10" width="30.5" height="11.0" fill="rgb(144,238,144)" fill-opacity="0.5" stroke="rgb(144,238,144)" stroke-opacity="0.45" stroke-width="1.0"/>
<text x="205.90" y="118.90" font-size="14.30" textLength="93.00" lengthAdjust="spacingAndGlyphs">CHEX-MATE</text>
<text x="303.50" y="118.90" font-size="14.30" textLength="39.50" lengthAdjust="spacingAndGlyphs">0.15-1</text>
<text x="349.50" y="118.90" font-size="14.60" font-style="italic" textLength="11.30" lengthAdjust="spacingAndGlyphs">R</text>
<text x="360.60" y="121.00" font-size="10.00" textLength="17.00" lengthAdjust="spacingAndGlyphs">500</text>
<text x="234.60" y="261.10" font-size="18.20" textLength="32.20" lengthAdjust="spacingAndGlyphs">-2/3</text>
<text x="273.00" y="262.00" font-size="21.00" textLength="6.20" lengthAdjust="spacingAndGlyphs">(</text>
<text x="280.00" y="261.10" font-size="18.20" textLength="31.20" lengthAdjust="spacingAndGlyphs">K41</text>
<text x="311.80" y="262.00" font-size="21.00" textLength="6.20" lengthAdjust="spacingAndGlyphs">)</text>
<text x="65.10" y="338.40" font-size="14.60" textLength="15.30" lengthAdjust="spacingAndGlyphs">10</text><text x="79.50" y="333.80" font-size="10.20" textLength="6.90" lengthAdjust="spacingAndGlyphs">0</text>
<text x="253.20" y="338.40" font-size="14.60" textLength="15.30" lengthAdjust="spacingAndGlyphs">10</text><text x="267.40" y="333.80" font-size="10.20" textLength="9.30" lengthAdjust="spacingAndGlyphs">−</text><text x="276.70" y="333.80" font-size="10.20" textLength="7.40" lengthAdjust="spacingAndGlyphs">1</text>
<text x="34.60" y="323.30" font-size="14.60" textLength="15.30" lengthAdjust="spacingAndGlyphs">10</text><text x="48.80" y="318.70" font-size="10.20" textLength="9.30" lengthAdjust="spacingAndGlyphs">−</text><text x="58.10" y="318.70" font-size="10.20" textLength="7.40" lengthAdjust="spacingAndGlyphs">4</text>
<text x="34.60" y="142.20" font-size="14.60" textLength="15.30" lengthAdjust="spacingAndGlyphs">10</text><text x="48.80" y="137.60" font-size="10.20" textLength="9.30" lengthAdjust="spacingAndGlyphs">−</text><text x="58.10" y="137.60" font-size="10.20" textLength="7.40" lengthAdjust="spacingAndGlyphs">3</text>
<text x="195.30" y="359.40" font-size="14.30" textLength="32.60" lengthAdjust="spacingAndGlyphs">Scale</text>
<text x="232.90" y="360.20" font-size="17.00">[</text>
<text x="237.80" y="359.40" font-size="14.30" font-style="italic" textLength="10.90" lengthAdjust="spacingAndGlyphs">R</text>
<text x="248.70" y="361.60" font-size="9.80" textLength="17.30" lengthAdjust="spacingAndGlyphs">500</text>
<text x="265.60" y="360.20" font-size="17.00">]</text>
<g transform="translate(23.9,231.6) rotate(-90)">
<path d="M0.2,1.0 C1.4,1.6 2.6,0.6 3.2,-1.6 L5.6,-9.6 M1.6,-7.6 C2.6,-9.6 5.4,-10.5 8.2,-10.3 C11.2,-10.0 12.2,-8.2 11.3,-6.4 C10.3,-4.4 7.4,-3.7 4.6,-4.3" fill="none" stroke="#1c1c1c" stroke-width="1.0" stroke-linecap="round"/>
<text x="13.70" y="2.80" font-size="10.00" textLength="5.60" lengthAdjust="spacingAndGlyphs">3</text>
<text x="19.50" y="2.80" font-size="10.00" font-style="italic" textLength="8.40" lengthAdjust="spacingAndGlyphs">D</text>
<text x="27.70" y="2.80" font-size="10.00">,</text>
<text x="30.50" y="2.80" font-size="10.00" font-style="italic" textLength="5.20" lengthAdjust="spacingAndGlyphs">δ</text>
<text x="39.00" y="0.00" font-size="14.30">(</text>
<text x="44.20" y="0.00" font-size="14.30" font-style="italic" textLength="7.60" lengthAdjust="spacingAndGlyphs">k</text>
<text x="52.00" y="0.00" font-size="14.30">)</text>
<text x="60.40" y="2.60" font-size="19.50">×</text>
<text x="76.00" y="0.00" font-size="14.30" font-style="italic" textLength="7.60" lengthAdjust="spacingAndGlyphs">k</text>
<text x="84.00" y="-5.20" font-size="9.80" textLength="5.60" lengthAdjust="spacingAndGlyphs">3</text>
<text x="95.60" y="0.00" font-size="14.30">[</text>
<text x="101.20" y="0.00" font-size="14.30" textLength="20.20" lengthAdjust="spacingAndGlyphs">kpc</text>
<text x="122.40" y="-5.20" font-size="9.80" textLength="5.60" lengthAdjust="spacingAndGlyphs">3</text>
<text x="128.20" y="0.00" font-size="14.30">]</text>
</g>
</svg>
</body></html>
